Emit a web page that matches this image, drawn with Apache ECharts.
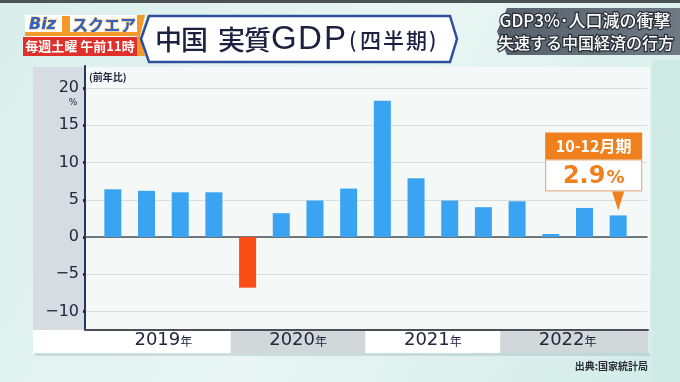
<!DOCTYPE html>
<html><head><meta charset="utf-8">
<script src="https://cdn.jsdelivr.net/npm/echarts@6/dist/echarts.min.js"></script>
<style>html,body{margin:0;padding:0;background:#e2f1ee}#c{width:680px;height:382px}</style>
</head><body><div id="c"></div>
<script>
const quarters = ['2019Q1','2019Q2','2019Q3','2019Q4','2020Q1','2020Q2','2020Q3','2020Q4','2021Q1','2021Q2','2021Q3','2021Q4','2022Q1','2022Q2','2022Q3','2022Q4'];
const gdpGrowth = [6.4, 6.2, 6.0, 6.0, -6.8, 3.2, 4.9, 6.5, 18.3, 7.9, 4.9, 4.0, 4.8, 0.4, 3.9, 2.9];
const years = ['2019年','2020年','2021年','2022年'];
const yTicks = [-10, -5, 0, 5, 10, 15, 20];
const calloutTitle = '10-12月期';
const calloutValue = '2.9';

(function(){
const FONT = '"DejaVu Sans", "Noto Sans CJK JP", sans-serif';
const JP = '"Noto Sans CJK JP", sans-serif';
const NAVY = '#23263f';
const BLUE = '#3ba4f2';
const RED = '#fb4e17';
const ORANGE = '#f0801e';

const chart = echarts.init(document.getElementById('c'), null, {renderer:'canvas'});

const titleParts = [['中',26,'k'],['国',26,'k'],[' ',11,'k'],['実',26,'k'],['質',27,'k'],['G',27,'g'],['D',26,'g'],['P',25,'g'],['(',11,'s'],['四',23,'s'],['半',23,'s'],['期',23,'s'],[')',10,'s']];
const titleRich = {};
let titleText = '';
titleParts.forEach((t,i)=>{
  const key='t'+i;
  const font = t[2]==='k' ? '500 27px '+JP : t[2]==='g' ? '33px "Liberation Sans", sans-serif' : '500 21px '+JP;
  titleRich[key] = {font:font, fill:'#1d2140', width:t[1]};
  titleText += '{'+key+'|'+t[0]+'}';
});

const baseGraphic = [
  {id:'bg', type:'rect', z:-20, shape:{x:0,y:0,width:680,height:382},
   style:{fill:new echarts.graphic.LinearGradient(0,0,1,1,[{offset:0,color:'#d9efec'},{offset:0.5,color:'#e8f5f3'},{offset:1,color:'#d2ece8'}])}},
  {id:'topline', type:'rect', z:-19, shape:{x:0,y:0,width:680,height:3}, style:{fill:'#4a5252'}},
  {id:'rightstrip', type:'rect', z:-19, shape:{x:652,y:60,width:28,height:322}, style:{fill:'#cfe9e5'}},
  {id:'leftpanel', type:'rect', z:-10, shape:{x:33,y:67,width:52,height:263}, style:{fill:'#d5dde3'}},
  {id:'plotpanel', type:'rect', z:-10, shape:{x:85,y:67,width:565,height:263}, style:{fill:'#f4f8f6'}},
  {id:'bandL', type:'rect', z:-10, shape:{x:33,y:330,width:63,height:23}, style:{fill:'#ffffff'}},
  {id:'bandR', type:'rect', z:-10, shape:{x:635,y:330,width:13,height:23}, style:{fill:'#d2d8da'}},
  {id:'bandShadow', type:'rect', z:-11, shape:{x:35,y:353,width:615,height:3}, style:{fill:'rgba(120,150,150,0.25)'}},
  {id:'logoTop', type:'rect', z:5, shape:{x:25,y:15,width:112,height:22}, style:{fill:'#ffffff'}},
  {id:'logoStripe', type:'rect', z:5, shape:{x:25,y:32,width:112,height:4}, style:{fill:'#f39a2a'}},
  {id:'logoBiz', type:'text', z:6, style:{x:29,y:25,text:'Biz',font:'italic bold 16px '+FONT,fill:'#2e64c8',verticalAlign:'middle',stroke:'#f6b04a',lineWidth:1}},
  {id:'logoBld', type:'rect', z:6, shape:{x:62,y:16,width:8,height:17}, style:{fill:'#f39a2a'}},
  {id:'logoSq', type:'text', z:6, style:{x:72,y:25,text:'スクエア',font:'bold 16px '+JP,fill:'#2e64c8',verticalAlign:'middle',stroke:'#f6b04a',lineWidth:1}},
  {id:'logoRed', type:'rect', z:5, shape:{x:23,y:37,width:114,height:19}, style:{fill:'#e0302c'}},
  {id:'logoRedTxt', type:'text', z:6, style:{x:80,y:46.5,text:'毎週土曜 午前11時',font:'bold 13px '+JP,fill:'#ffffff',align:'center',verticalAlign:'middle'}},
  {id:'logoChev', type:'polygon', z:5, shape:{points:[[137,15],[145,15],[140,36],[145,56],[137,56]]}, style:{fill:'#f39a2a'}},
  {id:'titleBox', type:'polygon', z:5, shape:{points:[[141,39],[149,16],[450,16],[457,39],[450,62],[149,62]]},
   style:{fill:'#ffffff',stroke:'#2d4f9e',lineWidth:2.5}},
  {id:'titleTxt', type:'text', z:6, style:{x:155,y:40, text:titleText, rich:titleRich, verticalAlign:'middle'}},
  {id:'badge', type:'polygon', z:5, shape:{points:[[507,8],[680,8],[680,55],[507,55],[497,31.5]]},
   style:{fill:new echarts.graphic.LinearGradient(0,0,1,0,[{offset:0,color:'#56616b'},{offset:1,color:'#6f7a84'}])}},
  {id:'badge1', type:'text', z:6, style:{x:585,y:21,text:'GDP3%･人口減の衝撃',font:'500 17px '+JP,fill:'#ffffff',stroke:'#2a3038',lineWidth:2.5,align:'center',verticalAlign:'middle'}},
  {id:'badge2', type:'text', z:6, style:{x:586,y:43,text:'失速する中国経済の行方',font:'500 16px '+JP,fill:'#ffffff',stroke:'#2a3038',lineWidth:2.5,align:'center',verticalAlign:'middle'}},
  {id:'unit', type:'text', z:6, style:{x:89,y:77,text:'(前年比)',font:'bold 10px '+JP,fill:NAVY,verticalAlign:'middle'}},
  {id:'pct', type:'text', z:6, style:{x:73,y:103,text:'%',font:'9px '+FONT,fill:NAVY,align:'center',verticalAlign:'middle'}},
  {id:'source', type:'text', z:6, style:{x:648,y:366,text:'出典:国家統計局',font:'bold 10px '+JP,fill:'#2a2d38',align:'right',verticalAlign:'middle'}}
];

const option = {
  animation:false,
  backgroundColor:'transparent',
  graphic: baseGraphic,
  grid:[
    {left:85, right:33, top:88, bottom:70.5},
    {left:96, right:45, top:88, bottom:70.5},
    {left:85, right:32, top:66, bottom:52},
    {left:96, right:45, top:330, bottom:29}
  ],
  xAxis:[
    {gridIndex:0, type:'value', min:0, max:1, axisLabel:{show:false}, splitLine:{show:false}, axisTick:{show:false},
     axisLine:{show:true, onZero:true, lineStyle:{color:'#4a4f56', width:1.5}}},
    {gridIndex:1, type:'category', data:quarters, axisLabel:{show:false}, axisTick:{show:false}, axisLine:{show:false}},
    {gridIndex:2, type:'value', min:0, max:1, axisLabel:{show:false}, splitLine:{show:false}, axisTick:{show:false},
     axisLine:{show:true, onZero:false, lineStyle:{color:'#4a4f57', width:2}}},
    {gridIndex:3, type:'category', data:years, axisTick:{show:false}, axisLine:{show:false},
     splitArea:{show:true, interval:0, areaStyle:{color:['#ffffff','#d2d8da']}},
     axisLabel:{inside:true, margin:4, interval:0,
       formatter:v=>'{y|'+v.replace('年','')+'}{n|年}',
       rich:{y:{fontFamily:FONT,fontSize:18,color:NAVY},n:{fontFamily:JP,fontSize:12,color:NAVY,padding:[3,0,0,0]}}}}
  ],
  yAxis:[
    {gridIndex:0, type:'value', min:-10, max:20, interval:5,
     axisLine:{show:false},
     axisTick:{show:true, length:2, lineStyle:{color:NAVY, width:3}},
     axisLabel:{margin:6, fontFamily:FONT, fontSize:16, color:NAVY, formatter:v=>String(v).replace('-','−')},
     splitLine:{show:true, lineStyle:{color:'#d9dddd', width:1}}},
    {gridIndex:1, type:'value', min:-10, max:20, interval:5, show:false},
    {gridIndex:2, type:'value', min:0, max:1, axisLabel:{show:false}, splitLine:{show:false}, axisTick:{show:false},
     axisLine:{show:true, lineStyle:{color:'#2d3360', width:2}}},
    {gridIndex:3, type:'value', show:false}
  ],
  series:[{
    type:'bar', xAxisIndex:1, yAxisIndex:1, barWidth:17,
    data: gdpGrowth.map(v=>({value:v, itemStyle:{color: v<0 ? RED : BLUE}})),
    z:3
  }]
};
chart.setOption(option);

const last = gdpGrowth.length-1;
const p = chart.convertToPixel({xAxisIndex:1, yAxisIndex:1}, [last, gdpGrowth[last]]);
const cx = p[0], barTop = p[1];
const tipY = barTop - 5, baseY = tipY - 19;
const boxR = cx + 24, boxL = cx - 73;
const bodyTop = baseY - 32, headTop = bodyTop - 27;
const callout = [
  {id:'cHead', type:'rect', z:8, shape:{x:boxL,y:headTop,width:boxR-boxL,height:27}, style:{fill:ORANGE}},
  {id:'cHeadTxt', type:'text', z:9, style:{x:(boxL+boxR)/2,y:headTop+14,text:calloutTitle,font:'bold 16px '+JP,fill:'#ffffff',align:'center',verticalAlign:'middle'}},
  {id:'cBody', type:'rect', z:8, shape:{x:boxL+0.5,y:bodyTop+0.5,width:boxR-boxL-1,height:31}, style:{fill:'#ffffff',stroke:'#e2a070',lineWidth:1}},
  {id:'cBodyTxt', type:'text', z:9, style:{x:(boxL+boxR)/2,y:bodyTop+17,
    text:'{v|'+calloutValue+'}{p|%}', rich:{v:{font:'bold 24px '+FONT,fill:ORANGE},p:{font:'bold 18px '+FONT,fill:ORANGE,padding:[4,0,0,1]}},
    align:'center',verticalAlign:'middle'}},
  {id:'cTip', type:'polygon', z:8, shape:{points:[[cx-6,baseY],[cx+6,baseY],[cx,tipY]]}, style:{fill:ORANGE}}
];
chart.setOption({graphic: baseGraphic.concat(callout)});
})();
</script>
</body></html>
